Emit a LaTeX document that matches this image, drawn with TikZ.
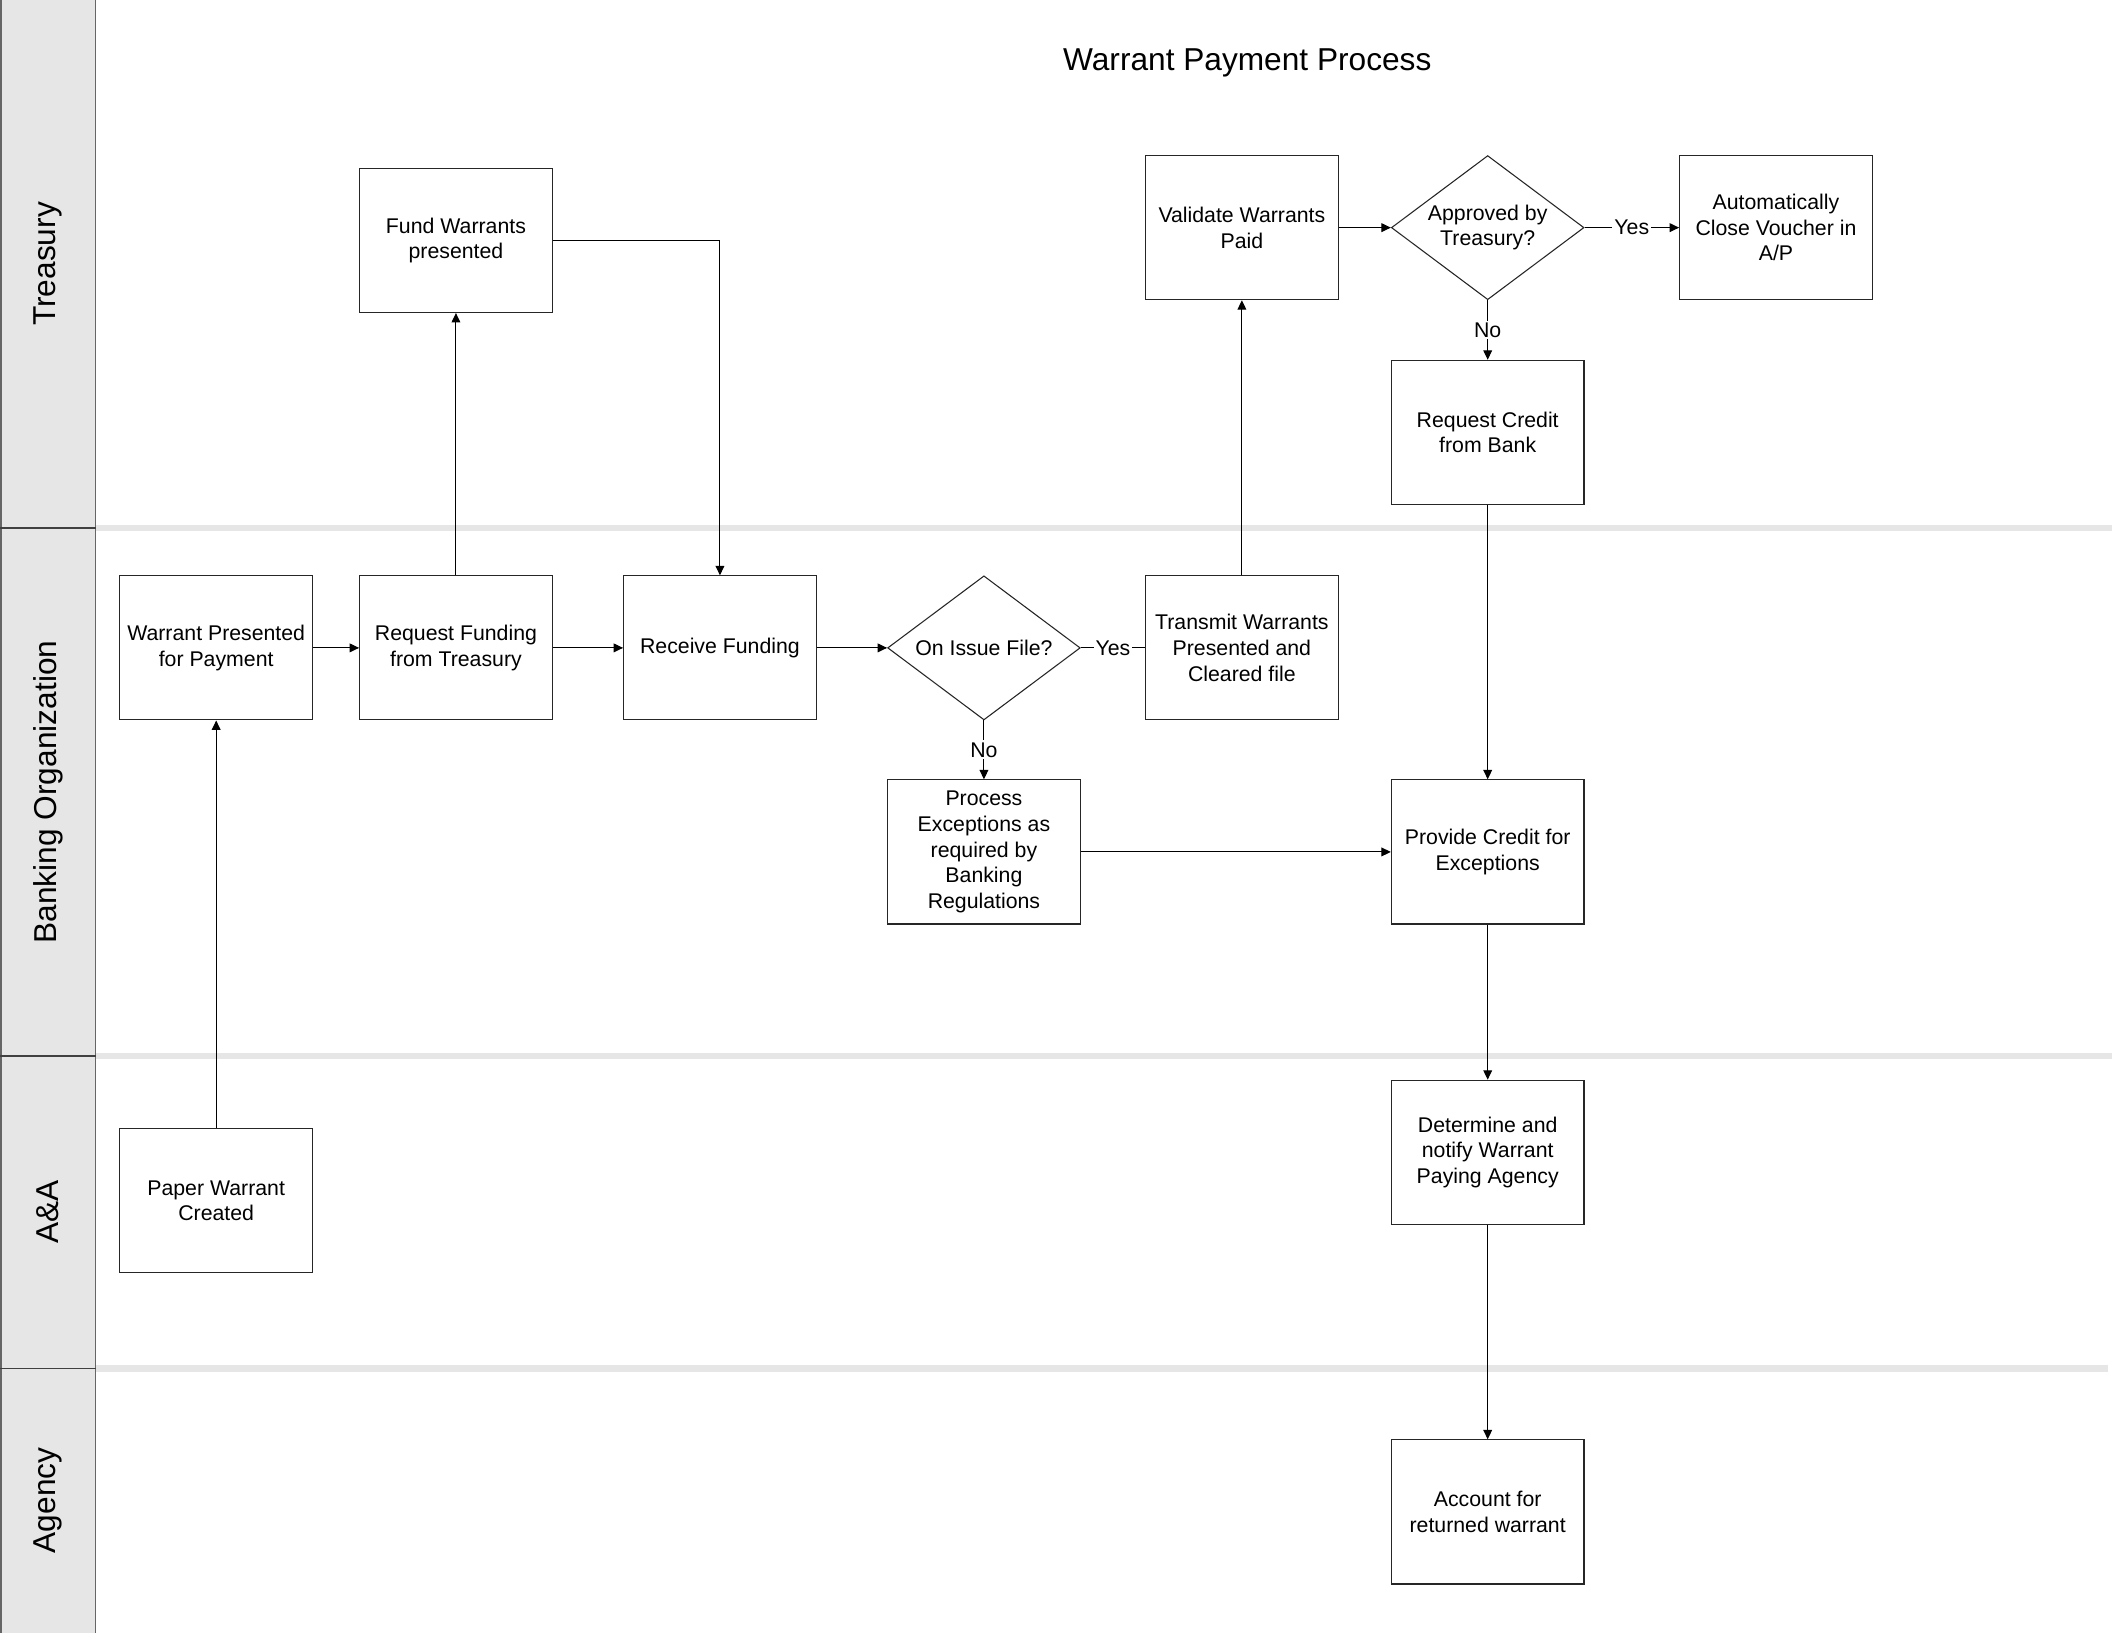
\documentclass[tikz,border=0pt]{standalone}
\usepackage{fontspec}
\setmainfont{Liberation Sans}
\usetikzlibrary{arrows.meta}
\usetikzlibrary{positioning}
\usetikzlibrary{shapes.geometric}
\definecolor{lanegray}{HTML}{E6E6E6}
\tikzstyle{process}=[draw=black!85,rectangle,line width=0.8pt,minimum width=143pt,minimum height=107pt,inner sep=2pt,align=center,font=\fontsize{15.8}{19}\selectfont]
\tikzstyle{decision}=[draw=black!85,diamond,aspect=1.336,line width=0.8pt,minimum width=143pt,minimum height=107pt,inner sep=0pt,align=center,font=\fontsize{15.8}{19}\selectfont]

\begin{document}
\begin{tikzpicture}[x=1pt,y=-1pt,line width=0.8pt,
  flow/.style={-{Triangle[length=7pt,width=6.5pt]}},
  answer/.style={fill=white,inner sep=1.5pt,font=\fontsize{15.8}{19}\selectfont},
  lane/.style={rotate=90,font=\fontsize{23.5}{28}\selectfont},
  band/.style={draw=lanegray,line width=5pt}]
\useasboundingbox (0,0) rectangle (1568,1212);
% swimlanes
\fill[lanegray] (0,0) rectangle (71,1212);
\draw[band] (71,392) -- (1568,392);
\draw[band] (71,784) -- (1568,784);
\draw[band] (71,1016) -- (1565,1016);
\draw[black!60,line width=1.2pt] (0.6,0) -- (0.6,1212) (71,0) -- (71,1212);
\draw[black!75] (0,392) -- (71,392) (0,784) -- (71,784) (0,1016) -- (71,1016);
\node[lane] (treasury) at (35.5,196) {Treasury};
\node[lane] (banking) at (35.5,588) {Banking Organization};
\node[lane] (aanda) at (35.5,900) {A\&A};
\node[lane] (agency) at (35.5,1114) {Agency};
\node[font=\fontsize{23.5}{28}\selectfont] (title) at (926,47) {Warrant Payment Process};

% Treasury
\node [process] (fund) at (338.5,178.5) {Fund Warrants\\presented};
\node [process] (validate) at (922,169) {Validate Warrants\\Paid};
\node [decision] (approved) at (1104.5,169) {Approved by\\Treasury?};
\node [process] (close) at (1318.5,169) {Automatically\\Close Voucher in\\A/P};
\node [process] (askcredit) at (1104.5,321) {Request Credit\\from Bank};

% Banking Organization
\node [process] (presented) at (160.5,481) {Warrant Presented\\for Payment};
\node [process] (askfunding) at (338.5,481) {Request Funding\\from Treasury};
\node [process] (receive) at (534.5,481) {Receive Funding};
\node [decision] (onfile) at (730.5,481) {On Issue File?};
\node [process] (transmit) at (922,481) {Transmit Warrants\\Presented and\\Cleared file};
\node [process] (exceptions) at (730.5,632.5) {Process\\Exceptions as\\required by\\Banking\\Regulations};
\node [process] (credit) at (1104.5,632.5) {Provide Credit for\\Exceptions};

% A&A
\node [process] (paper) at (160.5,891.5) {Paper Warrant\\Created};
\node [process] (notify) at (1104.5,855.5) {Determine and\\notify Warrant\\Paying Agency};

% Agency
\node [process] (account) at (1104.5,1122.5) {Account for\\returned warrant};

% connectors
\draw[flow] (paper) -- (presented);
\draw[flow] (presented) -- (askfunding);
\draw[flow] (askfunding) -- (fund);
\draw[flow] (fund.east) -| (receive.north);
\draw[flow] (askfunding) -- (receive);
\draw[flow] (receive) -- (onfile);
\draw (onfile) -- node[answer] {Yes} (transmit);
\draw[flow] (onfile) -- node[answer] {No} (exceptions);
\draw[flow] (transmit) -- (validate);
\draw[flow] (validate) -- (approved);
\draw[flow] (approved) -- node[answer] {Yes} (close);
\draw[flow] (approved) -- node[answer] {No} (askcredit);
\draw[flow] (askcredit) -- (credit);
\draw[flow] (exceptions) -- (credit);
\draw[flow] (credit) -- (notify);
\draw[flow] (notify) -- (account);
\end{tikzpicture}
\end{document}
